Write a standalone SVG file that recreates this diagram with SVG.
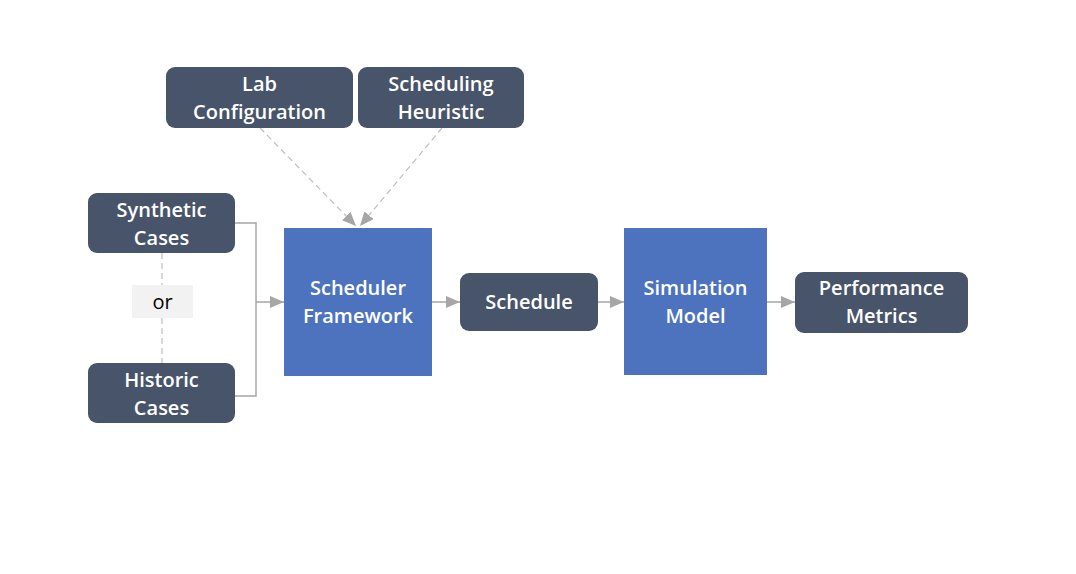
<svg xmlns="http://www.w3.org/2000/svg" width="1076" height="574" viewBox="0 0 1076 574">
<defs>
<marker id="arr" viewBox="0 0 14 12" refX="14" refY="6" markerWidth="14" markerHeight="12" markerUnits="userSpaceOnUse" orient="auto"><path d="M0,0 L14,6 L0,12 Z" fill="#a6a6a6"/></marker>
<style>
.dark{fill:#48546a}
.blue{fill:#4d73be}
.t{font-family:"Open Sans","Noto Sans",sans-serif;font-size:20px;font-weight:600;fill:#ffffff;text-anchor:middle}
.c{fill:none;stroke:#a6a6a6;stroke-width:1.5}
.d{fill:none;stroke:#bfbfbf;stroke-width:1.2;stroke-dasharray:6,4}
</style>
</defs>
<rect width="1076" height="574" fill="#ffffff"/>
<g id="connectors">
<path class="d" d="M260,128 L356,226" marker-end="url(#arr)"/>
<path class="d" d="M442,128 L360,226" marker-end="url(#arr)"/>
<path class="d" d="M162,253 L162,285 M162,318 L162,363"/>
<path class="c" d="M235,223 L256,223 L256,396 L235,396"/>
<path class="c" d="M256,302 L284,302" marker-end="url(#arr)"/>
<path class="c" d="M432,302 L460,302" marker-end="url(#arr)"/>
<path class="c" d="M598,302 L624,302" marker-end="url(#arr)"/>
<path class="c" d="M767,302 L795,302" marker-end="url(#arr)"/>
</g>
<g id="lab"><rect class="dark" x="166" y="67" width="187" height="61" rx="9"/><text class="t" x="259.5" y="91">Lab</text><text class="t" x="259.5" y="119">Configuration</text></g>
<g id="heuristic"><rect class="dark" x="358" y="67" width="166" height="61" rx="9"/><text class="t" x="441" y="91">Scheduling</text><text class="t" x="441" y="119">Heuristic</text></g>
<g id="synthetic"><rect class="dark" x="88" y="193" width="147" height="60" rx="9"/><text class="t" x="161.5" y="217">Synthetic</text><text class="t" x="161.5" y="245">Cases</text></g>
<g id="or"><rect x="132" y="285" width="61" height="33" fill="#f2f2f2"/><text class="t" x="162.5" y="309" style="fill:#000000;font-weight:400">or</text></g>
<g id="historic"><rect class="dark" x="88" y="363" width="147" height="60" rx="9"/><text class="t" x="161.5" y="387">Historic</text><text class="t" x="161.5" y="415">Cases</text></g>
<g id="framework"><rect class="blue" x="284" y="228" width="148" height="148"/><text class="t" x="358" y="295">Scheduler</text><text class="t" x="358" y="323">Framework</text></g>
<g id="schedule"><rect class="dark" x="460" y="273" width="138" height="58" rx="9"/><text class="t" x="529" y="309">Schedule</text></g>
<g id="simulation"><rect class="blue" x="624" y="228" width="143" height="147"/><text class="t" x="695.5" y="295">Simulation</text><text class="t" x="695.5" y="323">Model</text></g>
<g id="metrics"><rect class="dark" x="795" y="272" width="173" height="61" rx="9"/><text class="t" x="881.5" y="295">Performance</text><text class="t" x="881.5" y="323">Metrics</text></g>
</svg>
